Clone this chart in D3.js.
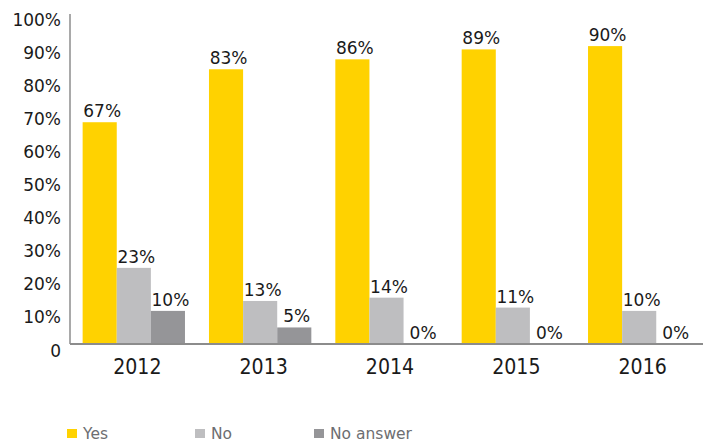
<!DOCTYPE html>
<html>
<head>
<meta charset="utf-8">
<script src="https://cdn.jsdelivr.net/npm/d3@7/dist/d3.min.js"></script>
<style>
  html, body { margin: 0; padding: 0; background: #fff; }
  svg { display: block; font-family: "DejaVu Sans", Verdana, sans-serif; }
</style>
</head>
<body>
<svg id="chart" width="709" height="443"></svg>
<script>
// Survey answers per year, in percent
const years = ["2012", "2013", "2014", "2015", "2016"];
const seriesNames = ["Yes", "No", "No answer"];
const yesValues = [67, 83, 86, 89, 90];
const noValues = [23, 13, 14, 11, 10];
const noAnswerValues = [10, 5, 0, 0, 0];
const yTicks = [0, 10, 20, 30, 40, 50, 60, 70, 80, 90, 100];
const colors = ["#FFD200", "#BEBEC0", "#959598"];

const seriesValues = [yesValues, noValues, noAnswerValues];
const rows = years.map((yr, i) => ({
  year: yr,
  values: seriesNames.map((s, k) => ({ key: s, value: seriesValues[k][i], idx: k }))
}));

const svg = d3.select("#chart");
const plotLeft = 70, plotRight = 703, plotTop = 13, plotBottom = 344;

const x0 = d3.scaleBand().domain(years).range([plotLeft, plotRight])
  .paddingInner(0.19).paddingOuter(0.1);
const x1 = d3.scaleBand().domain(seriesNames).range([0, x0.bandwidth()]);
const y = d3.scaleLinear().domain([0, 100]).range([plotBottom, plotTop]);

// bars
const groups = svg.append("g").selectAll("g").data(rows).join("g")
  .attr("transform", d => `translate(${x0(d.year)},0)`);

groups.selectAll("rect").data(d => d.values).join("rect")
  .attr("x", d => x1(d.key))
  .attr("y", d => y(d.value))
  .attr("width", x1.bandwidth())
  .attr("height", d => y(0) - y(d.value))
  .attr("fill", d => colors[d.idx]);

// value labels
groups.selectAll("text").data(d => d.values).join("text")
  .attr("x", d => x1(d.key) + x1.bandwidth() / 2 + 2.5)
  .attr("y", d => y(d.value) - 5)
  .attr("text-anchor", "middle")
  .attr("font-size", 17)
  .attr("fill", "#1a1a1a")
  .text(d => d.value + "%");

// y axis
const yAxis = svg.append("g").attr("transform", `translate(${plotLeft},0)`)
  .call(d3.axisLeft(y).tickValues(yTicks).tickSize(0).tickPadding(9)
    .tickFormat(d => d === 0 ? "0" : d + "%"));
yAxis.select(".domain").attr("stroke", "#8c8c8c").attr("stroke-width", 1.5)
  .attr("d", `M0,${y(100) + 1}V${plotBottom}`);
yAxis.selectAll("text")
  .attr("font-size", 17)
  .attr("font-family", "DejaVu Sans, Verdana, sans-serif")
  .attr("fill", "#1a1a1a")
  .attr("dy", null)
  .attr("y", 12);

// x axis
const xAxis = svg.append("g").attr("transform", `translate(0,${plotBottom})`)
  .call(d3.axisBottom(x0).tickSize(0).tickPadding(0));
xAxis.select(".domain").attr("stroke", "#8c8c8c").attr("stroke-width", 2)
  .attr("d", `M${plotLeft},0H${plotRight}`);
xAxis.selectAll(".tick text")
  .attr("font-size", 19)
  .attr("font-family", "DejaVu Sans, Verdana, sans-serif")
  .attr("fill", "#1a1a1a")
  .attr("dy", null)
  .attr("y", 0)
  .attr("transform", "translate(3.5,30) scale(1,1.15)");

// legend
const legendX = [67, 195, 314];
const legend = svg.append("g").selectAll("g").data(seriesNames).join("g")
  .attr("transform", (d, i) => `translate(${legendX[i]},429)`);
legend.append("rect").attr("width", 10).attr("height", 9)
  .attr("fill", (d, i) => colors[i]);
legend.append("text").attr("x", 16).attr("y", 10)
  .attr("font-size", 15.5).attr("fill", "#6d6e71")
  .text(d => d);
</script>
</body>
</html>
